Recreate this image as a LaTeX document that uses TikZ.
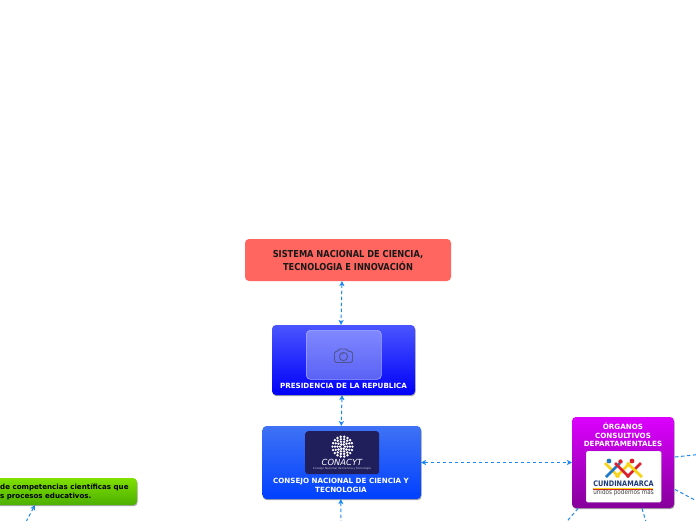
\documentclass[tikz,border=0pt]{standalone}
\usepackage{fontspec}
\setmainfont{DejaVu Sans}
\newfontfamily\condfont[FakeStretch=0.86]{DejaVu Sans}
\usetikzlibrary{arrows.meta,shadows,calc}
\definecolor{linkblue}{HTML}{1E88EE}
\definecolor{redBox}{HTML}{FF6660}
\definecolor{presTop}{HTML}{4A55FF}
\definecolor{presBot}{HTML}{0000F8}
\definecolor{conTop}{HTML}{3F72F5}
\definecolor{conBot}{HTML}{0040FF}
\definecolor{purTop}{HTML}{DC00FF}
\definecolor{purBot}{HTML}{85009A}
\definecolor{grnTop}{HTML}{80E000}
\definecolor{grnBot}{HTML}{4CAF00}
\definecolor{phTop}{HTML}{8088FF}
\definecolor{phBot}{HTML}{5A62F5}
\definecolor{phIcon}{HTML}{50558F}
\definecolor{conLogo}{HTML}{211E5C}
\definecolor{cRed}{HTML}{D9202B}
\definecolor{cYel}{HTML}{F7D417}
\definecolor{cBlu}{HTML}{1E78C8}
\definecolor{cNavy}{HTML}{1B3A78}
\tikzset{
 x=1pt,y=-1pt,
 boxbase/.style={rounded corners=4pt,inner sep=0,outer sep=0,drop shadow={shadow xshift=0.6pt,shadow yshift=-1.2pt,opacity=.35,fill=black}},
 conn/.style={draw=linkblue,line width=1pt,dash pattern=on 3.5pt off 2.5pt,{Stealth[length=5pt,width=5pt,inset=1.2pt]}-{Stealth[length=5pt,width=5pt,inset=1.2pt]}},
 connout/.style={draw=linkblue,line width=1pt,dash pattern=on 3.5pt off 2.5pt,-{Stealth[length=5pt,width=5pt,inset=1.2pt]}},
 lab/.style={font=\bfseries\fontsize{7.15}{9}\selectfont,text=white,align=center,inner sep=0},
}
\begin{document}
\begin{tikzpicture}
\useasboundingbox (0,0) rectangle (696,520);
\fill[white] (0,0) rectangle (696,520);
\begin{scope}
\clip (0,0) rectangle (696,520);
% boxes
\node[rounded corners=4pt,fill=redBox,inner sep=0,outer sep=0,minimum width=206pt,minimum height=42pt,anchor=north west,
  font=\condfont\bfseries\fontsize{9.6}{13}\selectfont,align=center,text=black!90] (red) at (245,239) {SISTEMA NACIONAL DE CIENCIA,\\TECNOLOGIA E INNOVACIÓN};
\node[boxbase,top color=presTop,bottom color=presBot,minimum width=143pt,minimum height=70pt,anchor=north west] (pres) at (272,325) {};
\node[boxbase,top color=conTop,bottom color=conBot,minimum width=158.5pt,minimum height=73pt,anchor=north west] (con) at (262.5,426) {};
\node[boxbase,top color=purTop,bottom color=purBot,minimum width=102pt,minimum height=91pt,anchor=north west] (org) at (572,417) {};
\node[boxbase,top color=grnTop,bottom color=grnBot,minimum width=167pt,minimum height=27pt,anchor=north west] (grn) at (-30,478) {};
% placeholder
\node[rounded corners=4pt,top color=phTop,bottom color=phBot,draw=white!30!phTop,line width=.6pt,minimum width=75pt,minimum height=49pt,inner sep=0,anchor=north west] (ph) at (306,330) {};
\draw[phIcon,line width=.9pt,rounded corners=1.5pt] (334.5,351.5) -- (338,351.5) -- (339,349) -- (347,349) -- (348,351.5) -- (352.5,351.5) -- (352.5,362.5) -- (334.5,362.5) -- cycle;
\draw[phIcon,line width=.9pt] (343.5,356.5) circle (4.2);
\draw[phIcon,line width=.6pt] (341.5,355) arc (200:290:2);
% labels
\node[lab] (presl) at (343.5,385.5) {PRESIDENCIA DE LA REPUBLICA};
\node[lab] (conl) at (341,485.5) {CONSEJO NACIONAL DE CIENCIA Y\\TECNOLOGIA};
\node[lab,font=\bfseries\fontsize{7.15}{8.7}\selectfont] (orgl) at (623,435) {ÓRGANOS\\CONSULTIVOS\\DEPARTAMENTALES};
\node[font=\bfseries\fontsize{7.1}{9}\selectfont,align=left,anchor=west,inner sep=0,text=black] (grnl) at (0,491.5) {de competencias científicas que\\s procesos educativos.};
% CONACYT logo
\node[rounded corners=3pt,fill=conLogo,minimum width=74pt,minimum height=43pt,inner sep=0,anchor=north west] (clogo) at (305,431) {};
\foreach \r/\n in {2.5/6,5/10,7.5/14,10/18}{
  \foreach \i in {1,...,\n}{
    \fill[white] ({342.5+\r*cos(360*\i/\n)},{446.6+\r*sin(360*\i/\n)}) circle (1.35);
  }
}
\node[text=white,inner sep=0,font=\fontsize{8.4}{9}\selectfont\itshape] (ctxt) at (342,462) {CONACYT};
\node[text=white!75!conLogo,inner sep=0,font=\fontsize{2.8}{3}\selectfont] (csub) at (342,468.3) {Consejo Nacional de Ciencia y Tecnología};
% CUNDINAMARCA logo
\node[rounded corners=1.5pt,fill=white,draw=white!85!black,line width=.4pt,minimum width=75pt,minimum height=51pt,inner sep=0,anchor=north west] (ulogo) at (586,451) {};
\draw[cYel,line width=2.8pt] (605,463) -- (619,477);
\draw[cBlu,line width=2.8pt] (620,463) -- (606,477);
\draw[cYel,line width=2.8pt] (616,477) -- (630,463);
\draw[cRed,line width=2.8pt] (615,463) -- (629,477);
\draw[cRed,line width=2.8pt] (627,477) -- (641,463);
\draw[cYel,line width=2.8pt] (627,463) -- (642,477);
\fill[cBlu] (609,461) circle (2.4);
\fill[cRed] (620.5,461.5) circle (2.2);
\fill[cRed] (632,461) circle (2.4);
\node[text=cNavy,inner sep=0,font=\condfont\bfseries\fontsize{7.6}{9}\selectfont] (utxt) at (623.5,483.5) {CUNDINAMARCA};
\draw[cBlu,line width=.5pt] (593,487.8) -- (653,487.8);
\draw[cYel,line width=.5pt] (593,488.5) -- (653,488.5);
\draw[cRed,line width=.3pt] (593,489.1) -- (653,489.1);
\node[text=black!75,inner sep=0,font=\condfont\fontsize{6.6}{7}\selectfont] (usub) at (623.5,492.5) {unidos podemos más};
% connectors
\coordinate (e1) at (20,533);
\coordinate (e2) at (341,535);
\coordinate (e3) at (712,453);
\coordinate (e4) at (712,509);
\coordinate (e5) at (556,534);
\coordinate (e6) at (650,535);
\draw[conn] ([xshift=-6]red.south) -- ([xshift=-2.5]pres.north);
\draw[conn] ([xshift=-1.5]pres.south) -- ([xshift=-0.5]con.north);
\draw[conn] (con.east) -- (org.west);
\draw[conn] ([xshift=-1]con.south) -- (e2);
\draw[conn] ([xshift=-18.5]grn.south) -- (e1);
\draw[connout] ([xshift=1,yshift=5.5]org.east) -- (e3);
\draw[connout] ([xshift=1,yshift=-27]org.east) -- (e4);
\draw[connout] ([xshift=-45,yshift=-0.5]org.south) -- (e5);
\draw[connout] ([xshift=19,yshift=-0.5]org.south) -- (e6);
\end{scope}
\end{tikzpicture}
\end{document}
